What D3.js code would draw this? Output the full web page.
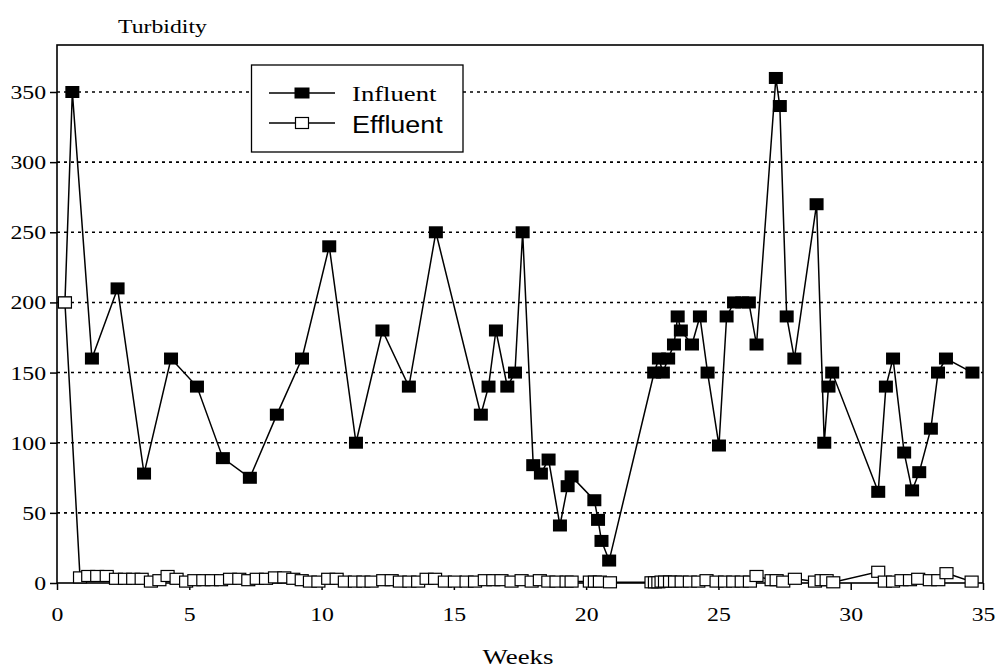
<!DOCTYPE html>
<html>
<head>
<meta charset="utf-8">
<script src="https://cdn.jsdelivr.net/npm/d3@7"></script>
<style>
  html, body { margin: 0; padding: 0; background: #fff; }
  svg { display: block; }
</style>
</head>
<body>
<svg id="chart" width="998" height="670"></svg>
<script>
// ---------------- DATA ----------------
const yTicks = [0, 50, 100, 150, 200, 250, 300, 350];
const xTicks = [0, 5, 10, 15, 20, 25, 30, 35];
const gridValues = [50, 100, 150, 200, 250, 300, 350];
const seriesNames = ["Influent", "Effluent"];
const yTitle = "Turbidity";
const xTitle = "Weeks";

const influentWeeks = [0.30, 0.58, 1.32, 2.29, 3.29, 4.31, 5.29, 6.27, 7.29, 8.31, 9.26, 10.29, 11.30, 12.30, 13.30, 14.32,
  16.02, 16.31, 16.59, 17.02, 17.31, 17.60, 18.00, 18.29, 18.58, 19.01, 19.30, 19.45, 20.31, 20.45, 20.58, 20.87,
  22.57, 22.75, 22.90, 23.10, 23.32, 23.46, 23.58, 24.00, 24.30, 24.59, 25.02, 25.31, 25.59, 25.90, 26.15, 26.44,
  27.17, 27.32, 27.58, 27.87, 28.71, 29.00, 29.16, 29.30, 31.04, 31.33, 31.60, 32.02, 32.32, 32.59, 33.03, 33.30, 33.60, 34.60];
const influentValues = [200, 350, 160, 210, 78, 160, 140, 89, 75, 120, 160, 240, 100, 180, 140, 250,
  120, 140, 180, 140, 150, 250, 84, 78, 88, 41, 69, 76, 59, 45, 30, 16,
  150, 160, 150, 160, 170, 190, 180, 170, 190, 150, 98, 190, 200, 200, 200, 170,
  360, 340, 190, 160, 270, 100, 140, 150, 65, 140, 160, 93, 66, 79, 110, 150, 160, 150];

const effluentWeeks = [0.30, 0.87, 1.18, 1.52, 1.88, 2.23, 2.57, 2.88, 3.20, 3.55, 3.87, 4.18, 4.52, 4.88, 5.19, 5.53, 5.85,
  6.20, 6.54, 6.89, 7.23, 7.55, 7.90, 8.24, 8.59, 8.93, 9.25, 9.56, 9.88, 10.25, 10.57, 10.88, 11.26, 11.58, 11.89,
  12.33, 12.65, 12.96, 13.32, 13.65, 13.97, 14.29, 14.66, 15.04, 15.48, 15.80, 16.17, 16.49, 16.80, 17.18, 17.56,
  17.94, 18.25, 18.57, 18.88, 19.26, 19.45, 20.14, 20.33, 20.52, 20.90, 22.47, 22.60, 22.73, 22.85, 22.98, 23.17,
  23.36, 23.61, 23.92, 24.24, 24.55, 24.93, 25.25, 25.56, 25.88, 26.19, 26.44, 27.01, 27.20, 27.45, 27.89, 28.65,
  28.90, 29.09, 29.34, 31.04, 31.29, 31.60, 31.92, 32.24, 32.55, 32.99, 33.31, 33.62, 34.57];
const effluentValues = [200, 4, 5, 5, 5, 3, 3, 3, 3, 1, 2, 5, 3, 1, 2, 2, 2,
  2, 3, 3, 2, 3, 3, 4, 4, 3, 2, 1, 1, 3, 3, 1, 1, 1, 1,
  2, 2, 1, 1, 1, 3, 3, 1, 1, 1, 1, 2, 2, 2, 1, 2,
  1, 2, 1, 1, 1, 1, 1, 1, 1, 0.5, 0.5, 0.5, 0.5, 1, 1, 1,
  1, 1, 1, 1, 2, 1, 1, 1, 1, 1, 5, 2, 2, 1, 3, 1,
  2, 2, 0.5, 8, 1, 1, 2, 2, 3, 2, 2, 7, 1];

// ---------------- LAYOUT ----------------
const svg = d3.select("#chart");
const L = 57, R = 983, T = 45, B = 583;
const x = d3.scaleLinear().domain([0, 35]).range([L, R]);
const y = d3.scaleLinear().domain([0, 383.5]).range([B, T]);
const SERIF = "'Liberation Serif', 'Times New Roman', serif";
const SANS = "'Liberation Sans', Arial, sans-serif";
const SX = 1.25;

// gridlines
svg.append("g").selectAll("line").data(gridValues).join("line")
  .attr("x1", L).attr("x2", R)
  .attr("y1", d => y(d)).attr("y2", d => y(d))
  .attr("stroke", "#000").attr("stroke-width", 1.6)
  .attr("stroke-dasharray", "3,4");

// axes
const yAxis = d3.axisLeft(y).tickValues(yTicks).tickSize(7).tickPadding(4).tickFormat(d3.format("d"));
const gy = svg.append("g").attr("transform", `translate(${L},0)`).call(yAxis);
gy.select(".domain").remove();
gy.selectAll(".tick line").attr("stroke", "#000").attr("stroke-width", 1.5);
gy.selectAll(".tick text")
  .attr("font-family", SERIF).attr("font-size", 19).attr("fill", "#000")
  .attr("x", -11 / SX).attr("dy", "0.34em")
  .attr("transform", `scale(${SX},1)`);

const xAxis = d3.axisBottom(x).tickValues(xTicks).tickSize(7).tickFormat(d3.format("d"));
const gx = svg.append("g").attr("transform", `translate(0,${B})`).call(xAxis);
gx.select(".domain").remove();
gx.selectAll(".tick line").attr("stroke", "#000").attr("stroke-width", 1.5);
gx.selectAll(".tick text")
  .attr("font-family", SERIF).attr("font-size", 19).attr("fill", "#000")
  .attr("y", 38.5).attr("dy", 0)
  .attr("transform", `scale(${SX},1)`);

// frame
svg.append("rect").attr("x", L).attr("y", T).attr("width", R - L).attr("height", B - T)
  .attr("fill", "none").attr("stroke", "#000").attr("stroke-width", 1.6);

// series
const inf = influentWeeks.map((w, i) => [w, influentValues[i]]);
const eff = effluentWeeks.map((w, i) => [w, effluentValues[i]]);
const line = d3.line().x(d => x(d[0])).y(d => y(d[1]));

svg.append("path").datum(inf).attr("d", line)
  .attr("fill", "none").attr("stroke", "#000").attr("stroke-width", 1.5);
svg.append("g").selectAll("rect").data(inf).join("rect")
  .attr("x", d => x(d[0]) - 7).attr("y", d => y(d[1]) - 6)
  .attr("width", 14).attr("height", 12).attr("fill", "#000");

svg.append("path").datum(eff).attr("d", line)
  .attr("fill", "none").attr("stroke", "#000").attr("stroke-width", 1.5);
svg.append("g").selectAll("rect").data(eff).join("rect")
  .attr("x", d => x(d[0]) - 6.5).attr("y", d => y(d[1]) - 5.5)
  .attr("width", 13).attr("height", 11)
  .attr("fill", "#fff").attr("stroke", "#000").attr("stroke-width", 1.2);

// legend
const lg = svg.append("g");
lg.append("rect").attr("x", 251.5).attr("y", 65).attr("width", 211.5).attr("height", 87)
  .attr("fill", "#fff").attr("stroke", "#000").attr("stroke-width", 1.3);
const rows = [
  { name: seriesNames[0], cy: 93, filled: true, font: SERIF, size: 21, sx: 1.27, base: 100.5 },
  { name: seriesNames[1], cy: 123, filled: false, font: SANS, size: 23, sx: 1.17, base: 132.5 }
];
rows.forEach(r => {
  lg.append("line").attr("x1", 269).attr("x2", 335).attr("y1", r.cy).attr("y2", r.cy)
    .attr("stroke", "#000").attr("stroke-width", 1.5);
  if (r.filled) {
    lg.append("rect").attr("x", 302 - 7.5).attr("y", r.cy - 5.5).attr("width", 15).attr("height", 11).attr("fill", "#000");
  } else {
    lg.append("rect").attr("x", 302 - 6.5).attr("y", r.cy - 5.5).attr("width", 13).attr("height", 11)
      .attr("fill", "#fff").attr("stroke", "#000").attr("stroke-width", 1.2);
  }
  lg.append("text").attr("transform", `translate(352,${r.base}) scale(${r.sx},1)`)
    .attr("font-family", r.font).attr("font-size", r.size).attr("fill", "#000")
    .text(r.name);
});

// titles
svg.append("text").attr("transform", `translate(118,33) scale(${SX},1)`)
  .attr("font-family", SERIF).attr("font-size", 19).attr("fill", "#000").text(yTitle);
svg.append("text").attr("transform", `translate(518,664) scale(1.28,1)`)
  .attr("text-anchor", "middle")
  .attr("font-family", SERIF).attr("font-size", 21).attr("fill", "#000").text(xTitle);
</script>
</body>
</html>
